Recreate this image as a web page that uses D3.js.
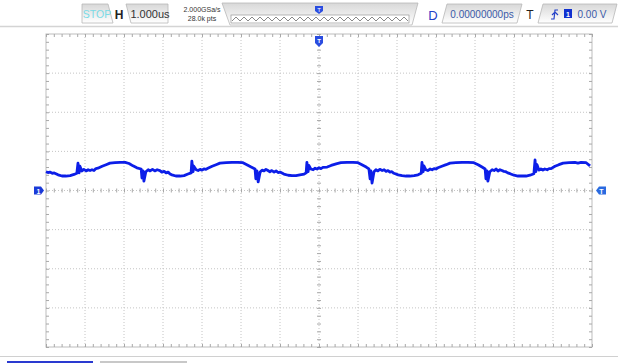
<!DOCTYPE html>
<html>
<head>
<meta charset="utf-8">
<script src="https://cdn.jsdelivr.net/npm/d3@7"></script>
<style>
  body { margin: 0; background: #fff; }
  svg { display: block; font-family: "Liberation Sans", Arial, sans-serif; }
</style>
</head>
<body>
<div id="chart"></div>
<script>
// time in us (0 = screen centre), value in divisions above the channel-1 ground marker
const traceTime = [
  -7.00,-6.95,-6.90,-6.84,-6.79,-6.69,-6.59,-6.49,-6.38,-6.28,-6.21,-6.18,-6.15,-6.13,-6.08,-6.03,-5.97,-5.92,-5.87,-5.82,-5.77,-5.72,-5.67,
  -5.56,-5.46,-5.36,-5.23,-5.10,-4.97,-4.87,-4.77,-4.67,-4.56,-4.54,-4.51,-4.49,-4.44,-4.38,-4.33,-4.27,-4.21,-4.15,-4.08,-4.03,-3.97,
  -3.92,-3.87,-3.82,-3.77,-3.67,-3.56,-3.46,-3.36,-3.28,-3.26,-3.23,-3.21,-3.15,-3.10,-3.05,-3.00,-2.95,-2.90,-2.85,-2.74,-2.64,-2.54,
  -2.38,-2.23,-2.08,-1.95,-1.85,-1.74,-1.64,-1.62,-1.59,-1.56,-1.51,-1.46,-1.41,-1.36,-1.31,-1.26,-1.21,-1.15,-1.10,-1.05,-1.00,-0.90,
  -0.79,-0.69,-0.59,-0.49,-0.38,-0.33,-0.31,-0.28,-0.26,-0.21,-0.15,-0.10,-0.05,0.00,0.05,0.10,0.21,0.31,0.44,0.56,0.72,0.87,1.00,
  1.10,1.21,1.28,1.31,1.33,1.36,1.41,1.46,1.51,1.56,1.62,1.67,1.72,1.77,1.82,1.87,1.92,2.03,2.13,2.23,2.33,2.44,2.54,2.62,2.64,2.67,
  2.69,2.74,2.79,2.85,2.90,2.95,3.00,3.05,3.15,3.26,3.36,3.51,3.67,3.82,3.97,4.08,4.18,4.26,4.28,4.31,4.33,4.38,4.44,4.49,4.54,4.59,
  4.64,4.69,4.74,4.79,4.84,4.90,5.00,5.10,5.21,5.31,5.41,5.51,5.54,5.56,5.59,5.64,5.69,5.74,5.79,5.85,5.90,5.95,6.05,6.15,6.26,6.41,
  6.56,6.64,6.72,6.85,6.95
];
const traceValue = [
  0.48,0.46,0.47,0.44,0.45,0.40,0.37,0.37,0.38,0.41,0.44,0.70,0.45,0.62,0.50,0.54,0.50,0.53,0.51,0.53,0.51,0.56,0.57,
  0.62,0.66,0.70,0.71,0.72,0.72,0.69,0.63,0.58,0.55,0.32,0.50,0.24,0.48,0.53,0.50,0.54,0.50,0.53,0.51,0.47,0.49,
  0.45,0.47,0.42,0.40,0.37,0.37,0.38,0.42,0.45,0.75,0.48,0.62,0.53,0.51,0.54,0.52,0.55,0.54,0.57,0.62,0.66,0.70,
  0.71,0.72,0.72,0.71,0.66,0.60,0.55,0.30,0.50,0.22,0.47,0.52,0.50,0.54,0.51,0.48,0.51,0.47,0.50,0.46,0.47,0.42,
  0.39,0.38,0.38,0.40,0.42,0.45,0.72,0.48,0.64,0.55,0.53,0.57,0.55,0.58,0.56,0.59,0.60,0.64,0.68,0.71,0.72,0.72,0.71,
  0.66,0.60,0.55,0.30,0.50,0.19,0.48,0.53,0.50,0.54,0.51,0.53,0.49,0.51,0.47,0.48,0.44,0.40,0.38,0.37,0.37,0.38,0.40,0.44,0.72,0.48,
  0.63,0.53,0.51,0.55,0.53,0.56,0.55,0.58,0.62,0.66,0.70,0.71,0.72,0.72,0.71,0.66,0.60,0.55,0.30,0.50,0.24,0.48,0.53,0.51,0.55,0.50,
  0.53,0.51,0.49,0.48,0.45,0.43,0.39,0.37,0.37,0.37,0.39,0.43,0.78,0.48,0.66,0.52,0.55,0.52,0.55,0.53,0.56,0.56,0.62,0.66,0.70,0.71,
  0.72,0.70,0.72,0.71,0.63
];
const timeDomain = [-7, 7];      // 14 divisions at 1.000us/div
const divDomain = [-4, 4];       // 8 vertical divisions
const hTimebase = "1.000us";
const sampleRate = "2.000GSa/s";
const memDepth = "28.0k pts";
const delayText = "0.00000000ps";
const trigLevel = "0.00 V";

const width = 618, height = 363;
const plot = {left: 46, right: 592, top: 34, bottom: 347};

const svg = d3.select("#chart").append("svg")
  .attr("width", width).attr("height", height);

const x = d3.scaleLinear().domain(timeDomain).range([plot.left, plot.right]);
const y = d3.scaleLinear().domain(divDomain).range([plot.bottom, plot.top]);

const defs = svg.append("defs");
const g1 = defs.append("linearGradient").attr("id", "btn").attr("x1", 0).attr("x2", 0).attr("y1", 0).attr("y2", 1);
g1.append("stop").attr("offset", "0%").attr("stop-color", "#d8d8d8");
g1.append("stop").attr("offset", "100%").attr("stop-color", "#ffffff");

// ---- top status bar ----
const bar = svg.append("g");
function box(pts) {
  bar.append("path").attr("d", "M" + pts.map(p => p.join(",")).join("L") + "Z")
    .attr("fill", "url(#btn)").attr("stroke", "#b8b8b8").attr("stroke-width", 0.8);
}
box([[82,4],[108,4],[113,23],[82,23]]);
bar.append("text").attr("x", 97).attr("y", 18).attr("text-anchor", "middle")
  .attr("font-size", 10.5).attr("fill", "#7adbe6").text("STOP");
bar.append("text").attr("x", 119).attr("y", 19).attr("text-anchor", "middle")
  .attr("font-size", 12).attr("font-weight", "bold").attr("fill", "#222").text("H");
box([[126,4],[168,4],[168,23],[131,23]]);
bar.append("text").attr("x", 150).attr("y", 18).attr("text-anchor", "middle")
  .attr("font-size", 11).attr("fill", "#333").text(hTimebase);
bar.append("text").attr("x", 202).attr("y", 12).attr("text-anchor", "middle")
  .attr("font-size", 7).attr("fill", "#333").text(sampleRate);
bar.append("text").attr("x", 202).attr("y", 21).attr("text-anchor", "middle")
  .attr("font-size", 7).attr("fill", "#333").text(memDepth);
box([[222,3],[418,3],[412,25],[230,25]]);
// memory strip
bar.append("rect").attr("x", 231).attr("y", 15).attr("width", 178).attr("height", 8)
  .attr("fill", "#fff").attr("stroke", "#888").attr("stroke-width", 0.6);
const zz = d3.range(0, 45).map(i => [232 + i * 4, i % 2 ? 17 : 21]);
bar.append("path").attr("d", d3.line()(zz)).attr("fill", "none").attr("stroke", "#555").attr("stroke-width", 0.7);
bar.append("path").attr("d", "M315,6L323,6L323,11L319,14L315,11Z").attr("fill", "#2a4de0");
bar.append("text").attr("x", 319).attr("y", 12).attr("text-anchor", "middle")
  .attr("font-size", 6).attr("fill", "#fff").text("T");
bar.append("text").attr("x", 433).attr("y", 20).attr("text-anchor", "middle")
  .attr("font-size", 13).attr("fill", "#2340c8").text("D");
box([[447,4],[522,4],[517,23],[442,23]]);
bar.append("text").attr("x", 482).attr("y", 18).attr("text-anchor", "middle")
  .attr("font-size", 10).attr("fill", "#3a5aa8").text(delayText);
bar.append("text").attr("x", 530).attr("y", 19).attr("text-anchor", "middle")
  .attr("font-size", 12).attr("fill", "#222").text("T");
box([[543,4],[617,4],[612,23],[538,23]]);
bar.append("path").attr("d", "M551,19L554,19L555,10L558,10M552,15L555,12L558,15")
  .attr("fill", "none").attr("stroke", "#2340c8").attr("stroke-width", 1.2);
bar.append("rect").attr("x", 564).attr("y", 9).attr("width", 8).attr("height", 9).attr("fill", "#1030d0");
bar.append("text").attr("x", 568).attr("y", 17).attr("text-anchor", "middle")
  .attr("font-size", 7).attr("font-weight", "bold").attr("fill", "#fff").text("1");
bar.append("text").attr("x", 592).attr("y", 18).attr("text-anchor", "middle")
  .attr("font-size", 10).attr("fill", "#3a5aa8").text(trigLevel);
svg.append("line").attr("x1", 0).attr("x2", width).attr("y1", 26.5).attr("y2", 26.5)
  .attr("stroke", "#d4d4d4").attr("stroke-width", 1.5);

// ---- graticule ----
const grid = svg.append("g");
grid.selectAll(".vg").data(d3.range(-6, 7)).enter().append("line")
  .attr("x1", d => x(d)).attr("x2", d => x(d)).attr("y1", plot.top).attr("y2", plot.bottom)
  .attr("stroke", "#c4c4c4").attr("stroke-width", 1).attr("stroke-dasharray", "1,2");
grid.selectAll(".hg").data(d3.range(-3, 4)).enter().append("line")
  .attr("y1", d => y(d)).attr("y2", d => y(d)).attr("x1", plot.left).attr("x2", plot.right)
  .attr("stroke", "#c4c4c4").attr("stroke-width", 1).attr("stroke-dasharray", "1,2");
grid.append("rect").attr("x", plot.left).attr("y", plot.top)
  .attr("width", plot.right - plot.left).attr("height", plot.bottom - plot.top)
  .attr("fill", "none").attr("stroke", "#bdbdbd").attr("stroke-width", 1);

const minorX = d3.range(-35, 36).map(i => i / 5);
const minorY = d3.range(-20, 21).map(i => i / 5);
function styleAxis(a) {
  a.select(".domain").remove();
  a.selectAll("text").remove();
  a.selectAll("line").attr("stroke", "#a8a8a8");
}
svg.append("g").attr("transform", `translate(0,${plot.top})`)
  .call(d3.axisBottom(x).tickValues(minorX).tickSize(3)).call(styleAxis);
svg.append("g").attr("transform", `translate(0,${plot.bottom})`)
  .call(d3.axisTop(x).tickValues(minorX).tickSize(3)).call(styleAxis);
svg.append("g").attr("transform", `translate(${plot.left},0)`)
  .call(d3.axisRight(y).tickValues(minorY).tickSize(3)).call(styleAxis);
svg.append("g").attr("transform", `translate(${plot.right},0)`)
  .call(d3.axisLeft(y).tickValues(minorY).tickSize(3)).call(styleAxis);
// centre cross axes
svg.append("g").attr("transform", `translate(0,${y(0) - 2})`)
  .call(d3.axisBottom(x).tickValues(minorX).tickSize(4)).call(styleAxis);
svg.append("g").attr("transform", `translate(${x(0) - 2},0)`)
  .call(d3.axisRight(y).tickValues(minorY).tickSize(4)).call(styleAxis);

// ---- trace ----
const trace = traceTime.map((t, i) => [t, traceValue[i]]);
svg.append("path").datum(trace)
  .attr("d", d3.line().x(d => x(d[0])).y(d => y(d[1])))
  .attr("fill", "none").attr("stroke", "#0c1ee8").attr("stroke-width", 2.8)
  .attr("stroke-linejoin", "round");

// ---- markers ----
const y0 = y(0);
svg.append("path").attr("d", `M34,${y0 - 4}L41,${y0 - 4}L44,${y0}L41,${y0 + 4}L34,${y0 + 4}Z`).attr("fill", "#1a3ad8");
svg.append("text").attr("x", 38.5).attr("y", y0 + 3).attr("text-anchor", "middle")
  .attr("font-size", 7).attr("font-weight", "bold").attr("fill", "#fff").text("1");
svg.append("path").attr("d", `M606,${y0 - 4}L599,${y0 - 4}L596,${y0}L599,${y0 + 4}L606,${y0 + 4}Z`).attr("fill", "#2a6ae0");
svg.append("text").attr("x", 601.5).attr("y", y0 + 3).attr("text-anchor", "middle")
  .attr("font-size", 7).attr("font-weight", "bold").attr("fill", "#fff").text("T");
const xc = x(0);
svg.append("path").attr("d", `M${xc - 4},36L${xc + 4},36L${xc + 4},43L${xc},47L${xc - 4},43Z`).attr("fill", "#2a4de0");
svg.append("text").attr("x", xc).attr("y", 43).attr("text-anchor", "middle")
  .attr("font-size", 6).attr("font-weight", "bold").attr("fill", "#fff").text("T");

// ---- bottom tabs ----
svg.append("line").attr("x1", 0).attr("x2", width).attr("y1", 356.5).attr("y2", 356.5)
  .attr("stroke", "#d0d0d0").attr("stroke-width", 1.2);
svg.append("rect").attr("x", 7).attr("y", 361).attr("width", 86).attr("height", 2).attr("fill", "#2a3ad0");
svg.append("rect").attr("x", 100).attr("y", 361).attr("width", 87).attr("height", 2).attr("fill", "#c8c8c8");
</script>
</body>
</html>
